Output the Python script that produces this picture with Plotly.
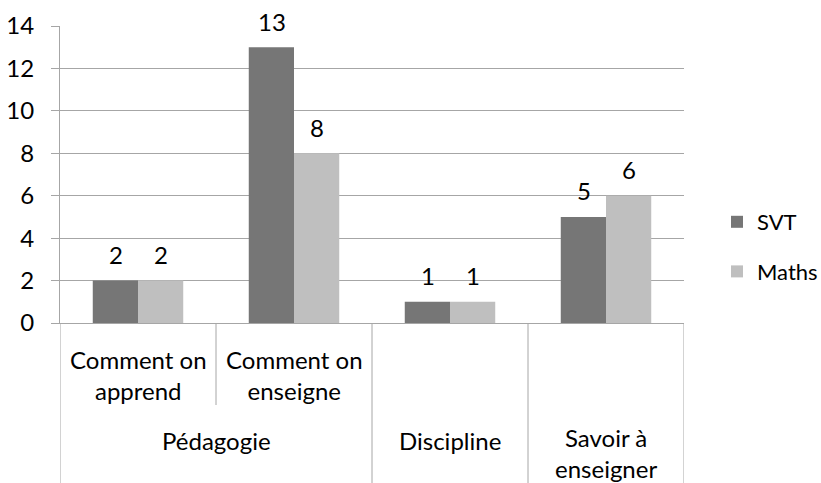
import plotly.graph_objects as go

# Category hierarchy (outer group, inner sub-category) and values
keys = ["Comment on apprend", "Comment on enseigne", "Discipline", "Savoir à enseigner"]
groups = ["Pédagogie", "Pédagogie", "Discipline", "Savoir à<br>enseigner"]
subcats = ["Comment on<br>apprend", "Comment on<br>enseigne", "", ""]
svt = [2, 13, 1, 5]
maths = [2, 8, 1, 6]
y_ticks = [0, 2, 4, 6, 8, 10, 12, 14]

FONT = "Lato"
FS = 24
GRID = "#a6a6a6"
SVT_COLOR = "#767676"
MATHS_COLOR = "#bfbfbf"

W, H = 821, 483
L, R, T, B = 60, 137, 26, 160
plot_h = H - T - B

fig = go.Figure()
fig.add_bar(x=keys, y=svt, name="SVT", marker=dict(color=SVT_COLOR, line=dict(width=0)),
            legendgroup="svt")
fig.add_bar(x=keys, y=maths, name="Maths", marker=dict(color=MATHS_COLOR, line=dict(width=0)),
            legendgroup="maths")

annotations = []
# value labels above each bar
bar_half = 22.5
for i, k in enumerate(keys):
    for vals, dx in ((svt, -bar_half), (maths, bar_half)):
        annotations.append(dict(x=k, y=vals[i], xref="x", yref="y", text=str(vals[i]),
                                xshift=dx, yshift=26, showarrow=False,
                                yanchor="middle", xanchor="center",
                                font=dict(family=FONT, size=FS, color="black")))

def py(px):
    # pixel offset below the plot bottom -> paper coordinate
    return -(px - (H - B)) / plot_h

# inner sub-category labels
for i, s in enumerate(subcats):
    if s:
        annotations.append(dict(x=i, y=py(374.5), xref="x", yref="paper", text=s,
                                showarrow=False, yanchor="middle", xanchor="center",
                                font=dict(family=FONT, size=FS, color="black")))

# outer group labels, centred over their span of categories
spans = []
for i, g in enumerate(groups):
    if spans and spans[-1][0] == g:
        spans[-1][2] = i
    else:
        spans.append([g, i, i])
for g, a, b in spans:
    yc = py(440) if "<br>" not in g else py(453)
    annotations.append(dict(x=(a + b) / 2, y=yc, xref="x", yref="paper", text=g,
                            showarrow=False, yanchor="middle", xanchor="center",
                            font=dict(family=FONT, size=FS, color="black")))

# divider lines below the axis
shapes = []
for g, a, b in spans:
    shapes.append(dict(type="line", xref="x", yref="paper", x0=a - 0.5, x1=a - 0.5,
                       y0=0, y1=py(H), line=dict(color=GRID, width=1)))
    for j in range(a, b):
        shapes.append(dict(type="line", xref="x", yref="paper", x0=j + 0.5, x1=j + 0.5,
                           y0=0, y1=py(405), line=dict(color=GRID, width=1)))
last = len(keys) - 0.5
shapes.append(dict(type="line", xref="x", yref="paper", x0=last, x1=last,
                   y0=0, y1=py(H), line=dict(color=GRID, width=1)))

fig.update_layout(
    width=W, height=H,
    margin=dict(l=L, r=R, t=T, b=B, pad=0, autoexpand=False),
    paper_bgcolor="white", plot_bgcolor="white",
    barmode="group", bargap=0.42, bargroupgap=0,
    font=dict(family=FONT, size=FS, color="black"),
    showlegend=True,
    legend=dict(xref="container", yref="container",
                x=717 / W, y=1 - 247 / H,
                xanchor="left", yanchor="middle", tracegroupgap=18,
                font=dict(family=FONT, size=22, color="black"),
                bgcolor="rgba(0,0,0,0)", borderwidth=0),
    annotations=annotations,
    shapes=shapes,
)
fig.update_xaxes(type="category", categoryorder="array", categoryarray=keys,
                 range=[-0.5, len(keys) - 0.5], showticklabels=False, ticks="",
                 showgrid=False, showline=True, linecolor=GRID, linewidth=1,
                 zeroline=False)
fig.update_yaxes(range=[0, 14], tickvals=y_ticks, ticktext=[str(v) for v in y_ticks],
                 showgrid=True, gridcolor=GRID, gridwidth=1,
                 showline=True, linecolor=GRID, linewidth=1,
                 ticks="outside", ticklen=8, tickcolor=GRID,
                 ticklabelstandoff=12, zeroline=False,
                 tickfont=dict(family=FONT, size=FS, color="black"))

fig.write_html("out.html")
